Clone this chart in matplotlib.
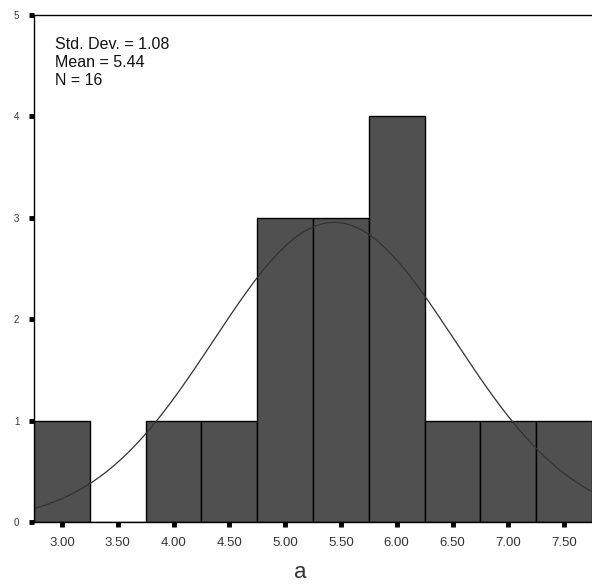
import numpy as np
import matplotlib
matplotlib.use("Agg")
import matplotlib.pyplot as plt

plt.rcParams["font.family"] = ["Liberation Sans", "DejaVu Sans"]

# histogram bins (midpoints) and counts
bin_mid = [3.00, 3.50, 4.00, 4.50, 5.00, 5.50, 6.00, 6.50, 7.00, 7.50]
counts = [1, 0, 1, 1, 3, 3, 4, 1, 1, 1]
BIN_W = 0.5

# summary statistics printed on the chart
STD = 1.08
MEAN = 5.44
N = 16

fig = plt.figure(figsize=(5.92, 5.84), dpi=100)
ax = fig.add_axes([34 / 592, 62 / 584, 1 - 34 / 592, (522 - 15) / 584])

ax.bar(bin_mid, counts, width=BIN_W, color="#505050", edgecolor="black",
       linewidth=1.0, zorder=1)

# fitted normal curve, scaled to counts
xx = np.linspace(2.75, 7.75, 400)
yy = N * BIN_W / (STD * np.sqrt(2 * np.pi)) * np.exp(-0.5 * ((xx - MEAN) / STD) ** 2)
ax.plot(xx, yy, color="#333333", lw=0.9, zorder=2)

ax.set_xlim(2.75, 7.75)
ax.set_ylim(0, 5)
ax.set_xticks(bin_mid)
ax.set_xticklabels([f"{v:.2f}" for v in bin_mid], fontsize=9.5, color="#333333")
ax.set_yticks(range(6))
ax.set_yticklabels([str(v) for v in range(6)], fontsize=7, color="#333333")
ax.tick_params(direction="out", length=3.5, width=3.5, color="black", pad=7)
ax.spines["right"].set_visible(False)
for s in ("left", "top", "bottom"):
    ax.spines[s].set_linewidth(1.0)

ax.text(0.037, 0.957, f"Std. Dev. = {STD:.2f}\nMean = {MEAN:.2f}\nN = {N}",
        transform=ax.transAxes, fontsize=11.5, va="top", ha="left",
        linespacing=1.25, color="#111111")

fig.text(300 / 592, 1 - 572 / 584, "a", fontsize=16, ha="center", va="center",
         color="#333333")

fig.savefig("out.png", dpi=100)
